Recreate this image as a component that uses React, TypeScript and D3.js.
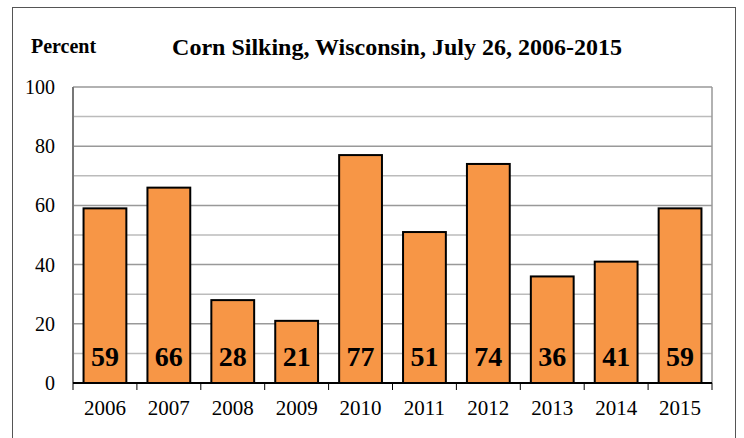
import React from 'react';
import * as d3 from 'd3';

// chart data
const years = ['2006', '2007', '2008', '2009', '2010', '2011', '2012', '2013', '2014', '2015'];
const silkingPct = [59, 66, 28, 21, 77, 51, 74, 36, 41, 59];
const yTicks = [0, 20, 40, 60, 80, 100];
const yMinor = [10, 30, 50, 70, 90];

const W = 744;
const H = 438;
const plot = { left: 73, top: 87, right: 712, bottom: 383 };
const serif = "'Liberation Serif', 'Times New Roman', Times, serif";

const App = () => {
  const x = d3
    .scaleBand()
    .domain(years)
    .range([plot.left, plot.right])
    .paddingInner(0.33)
    .paddingOuter(0.165);

  const y = d3.scaleLinear().domain([0, 100]).range([plot.bottom, plot.top]);

  // tick marks sit on the category boundaries
  const step = (plot.right - plot.left) / years.length;
  const boundaries = d3.range(years.length + 1).map((i) => plot.left + i * step);

  return (
    <svg
      width={W}
      height={H}
      style={{ position: 'absolute', left: 0, top: 0, background: '#fff', fontFamily: serif }}
    >
      {/* outer frame */}
      <rect x={12.5} y={7.5} width={723} height={440} fill="none" stroke="#555" strokeWidth={1} />

      {/* gridlines */}
      {yMinor.map((t) => (
        <line key={'m' + t} x1={plot.left} x2={plot.right} y1={y(t)} y2={y(t)} stroke="#bbb" strokeWidth={1.5} />
      ))}
      {yTicks.map((t) => (
        <line key={'g' + t} x1={plot.left} x2={plot.right} y1={y(t)} y2={y(t)} stroke="#999" strokeWidth={1.5} />
      ))}
      <line x1={plot.right} x2={plot.right} y1={plot.top} y2={plot.bottom} stroke="#999" strokeWidth={1.5} />
      <line x1={plot.left} x2={plot.left} y1={plot.top} y2={plot.bottom} stroke="#777" strokeWidth={2} />

      {/* bars */}
      {years.map((yr, i) => (
        <rect
          key={yr}
          x={x(yr)}
          y={y(silkingPct[i])}
          width={x.bandwidth()}
          height={plot.bottom - y(silkingPct[i])}
          fill="#F79646"
          stroke="#000"
          strokeWidth={2}
        />
      ))}

      {/* baseline + ticks */}
      <line x1={plot.left} x2={plot.right} y1={plot.bottom} y2={plot.bottom} stroke="#000" strokeWidth={2} />
      {boundaries.map((bx, i) => (
        <line key={'t' + i} x1={bx} x2={bx} y1={plot.bottom} y2={plot.bottom + 7} stroke="#000" strokeWidth={1} />
      ))}

      {/* value labels */}
      {years.map((yr, i) => (
        <text
          key={'v' + yr}
          x={(x(yr) as number) + x.bandwidth() / 2}
          y={366}
          textAnchor="middle"
          fontSize={28}
          fontWeight="bold"
        >
          {silkingPct[i]}
        </text>
      ))}

      {/* x labels */}
      {years.map((yr) => (
        <text key={'x' + yr} x={(x(yr) as number) + x.bandwidth() / 2} y={415} textAnchor="middle" fontSize={21}>
          {yr}
        </text>
      ))}

      {/* y labels */}
      {yTicks.map((t) => (
        <text key={'y' + t} x={55} y={y(t) + 7} textAnchor="end" fontSize={20}>
          {t}
        </text>
      ))}

      <text x={31} y={53} fontSize={20} fontWeight="bold">
        Percent
      </text>
      <text x={397} y={55} textAnchor="middle" fontSize={24} fontWeight="bold">
        Corn Silking, Wisconsin, July 26, 2006-2015
      </text>
    </svg>
  );
};

export default App;
